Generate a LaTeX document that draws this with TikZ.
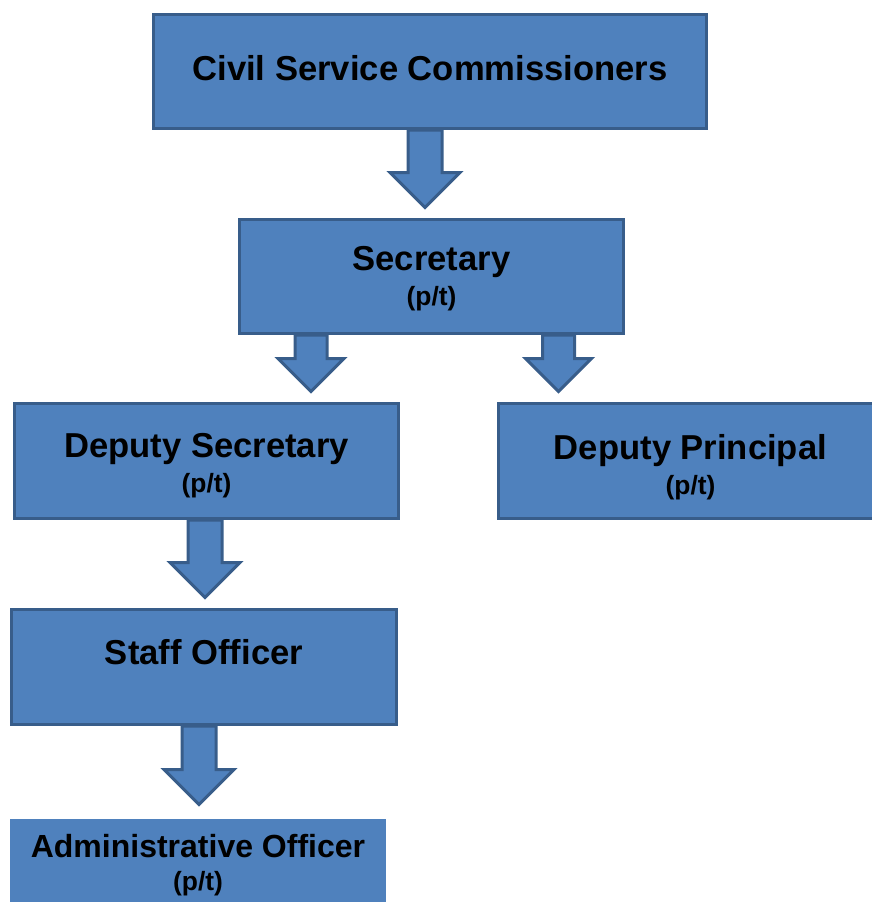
\documentclass[tikz,border=0pt]{standalone}
\usepackage{fontspec}
\setmainfont{Liberation Sans}
\usetikzlibrary{shapes.arrows}

\definecolor{postfill}{HTML}{4F81BD}
\definecolor{postline}{HTML}{385D8A}
\newcommand{\headfont}{\fontsize{17.3}{20}\selectfont\bfseries}
\newcommand{\ptfont}{\fontsize{13.2}{16}\selectfont\bfseries}

\begin{document}
\begin{tikzpicture}[x=0.5pt, y=-0.5pt,
        post/.style={draw=postline, fill=postfill, line width=1.5pt,
            align=center, inner sep=0pt, font=\ptfont,
            minimum width=192pt, minimum height=57.5pt},
        downarrow/.style={single arrow, draw=postline, fill=postfill,
            line width=1.5pt, rotate=-90, anchor=tail,
            inner xsep=0pt, inner ysep=7.75pt,
            single arrow head extend=9pt} ]

    \useasboundingbox (0,0) rectangle (872,902);
    \clip (0,0) rectangle (872,902);

    % block arrows go first, the boxes sit on top of their tails
    \node[downarrow, minimum height=38.75pt] (a1) at (425,128.5) {};
    \node[downarrow, minimum height=28.25pt, inner ysep=7.25pt,
        single arrow head extend=8.5pt] (a2) at (311,333.5) {};
    \node[downarrow, minimum height=28.25pt, inner ysep=7.25pt,
        single arrow head extend=8.5pt] (a3) at (558.5,333.5) {};
    \node[downarrow, minimum height=38.75pt] (a4) at (205,518.5) {};
    \node[downarrow, minimum height=39.25pt] (a5) at (199,724.5) {};

    % the posts
    \node[post, minimum width=276.5pt, minimum height=57pt, text depth=3.7pt]
        (csc) at (430,71.5) {\headfont Civil Service Commissioners};
    \node[post, minimum height=57pt] (sec) at (431.5,276.5)
        {{\headfont\rule{0pt}{14.4pt}Secretary}\\[1.5pt](p/t)};
    \node[post] (dsec) at (206.5,461)
        {{\headfont\rule{0pt}{16.4pt}Deputy Secretary}\\[1.5pt](p/t)};
    \node[post] (dpri) at (690.5,461)
        {{\headfont\rule{0pt}{18.4pt}Deputy Principal}\\[1.5pt](p/t)};
    \node[post, minimum width=192.5pt, text depth=15pt] (staff) at (204,667)
        {\headfont Staff Officer};
    \node[post, draw=none, minimum width=188pt, minimum height=46pt]
        (admin) at (198,865)
        {{\fontsize{16}{19}\selectfont Administrative Officer}\\[0.5pt](p/t)};

\end{tikzpicture}
\end{document}
